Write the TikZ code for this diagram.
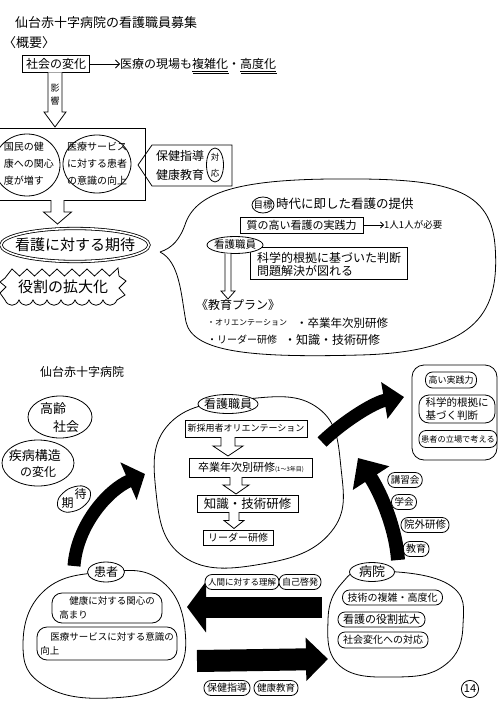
\documentclass[tikz,border=0pt]{standalone}
\usepackage{fontspec}
\setmainfont{Noto Sans CJK JP}
\usetikzlibrary{shapes.geometric,arrows.meta}
\newcommand\fsz[1]{\fontsize{#1}{#1}\selectfont}
\tikzset{
  pen/.style={line width=0.8pt},
  txt/.style={inner sep=0pt},
  shp/.style={draw, pen, ellipse, inner sep=0pt},
  bx/.style={draw, pen, rectangle, inner sep=0pt},
  stad/.style={draw, pen, rectangle, rounded corners=7pt, inner xsep=3pt, inner ysep=2pt, fill=white},
  hollow/.style={draw, pen, fill=white},
  blk/.style={line width=#1, draw=black},
}
\newcommand\hdown[6]{\draw[hollow] ({#1-#4},#2) -- ({#1-#4},{#3-#6}) -- ({#1-#5},{#3-#6}) -- (#1,#3) -- ({#1+#5},{#3-#6}) -- ({#1+#4},{#3-#6}) -- ({#1+#4},#2);}
\begin{document}
\begin{tikzpicture}[x=1pt,y=-1pt]
\fill[white] (0,0) rectangle (500,706);
\useasboundingbox (0,0) rectangle (500,706);

% ---------- top part ----------
\node[txt, anchor=west, font=\fsz{13}] (title) at (15,23) {仙台赤十字病院の看護職員募集};
\node[txt, anchor=west, font=\fsz{13}] (gaiyo) at (3,43) {〈概要〉};
\node[bx, minimum width=67, minimum height=17, font=\fsz{12}] (shakai) at (56,64) {社会の変化};
\node[txt, anchor=west, font=\fsz{12}] (iryo) at (120,64) {医療の現場も複雑化・高度化};
\draw[pen, -{Straight Barb[length=4pt]}] (shakai.east) -- (iryo.west);
\draw[line width=0.5pt] (192,71) -- (228,71) (193,73.5) -- (229,73.5);
\draw[line width=0.5pt] (240,71) -- (276,71) (241,73.5) -- (277,73.5);

\hdown{55}{72.5}{127}{7}{11}{15}
\node[txt, font=\fsz{9}] (ei) at (55,88) {影};
\node[txt, font=\fsz{9}] (kyo) at (55,101) {響};

\draw[pen] (0,128) -- (145,128) -- (145,200) -- (0,200);
\node[shp, minimum width=66, minimum height=62] (kokumin) at (27,165) {};
\node[txt, align=left, font=\fontsize{10}{17}\selectfont] at (29,164) {国民の健\\康への関心\\度が増す};
\node[shp, minimum width=68, minimum height=58] (ishiki) at (97,164) {};
\node[txt, align=center, font=\fontsize{10}{17}\selectfont] at (ishiki.center) {医療サービス\\に対する患者\\の意識の向上};

\draw[pen] (138,165) -- (152,145) -- (232,145) -- (232,186) -- (152,186) -- cycle;
\node[txt, font=\fsz{12}] (hoken1) at (180,156) {保健指導};
\node[txt, font=\fsz{12}] (kenko1) at (180,175) {健康教育};
\node[shp, minimum width=17, minimum height=34] (taio) at (215,165) {};
\node[txt, font=\fsz{8.5}] at (215,157) {対};
\node[txt, font=\fsz{8.5}] at (215,173) {応};

\hdown{57.5}{200}{224}{6.5}{14}{12}

\node[shp, double, double distance=1.6pt, minimum width=148, minimum height=33] (kitai) at (75,245) {};
\node[txt, font=\fsz{15}] at (kitai.center) {看護に対する期待};

\draw[pen] (5,278) \foreach \i in {0,...,6} { -- ({12+15*\i},269) -- ({19.5+15*\i},276) } -- (118,268) -- (119,276) -- (126,281) -- (119,288) -- (125,295) -- (117,300)
  \foreach \i in {0,...,7} { .. controls ({114-14*\i},307) and ({106-14*\i},307) .. ({103-14*\i},300) } -- (0,293) -- (6,287) -- (0,282) -- cycle;
\node[txt, font=\fsz{15}] (yakuwari) at (63,287) {役割の拡大化};

% speech bubble
\draw[pen] (160,252) .. controls (172,248) and (180,240) .. (186,222) .. controls (198,192) and (240,180) .. (330,179) .. controls (440,178) and (490,185) .. (495,245) .. controls (500,310) and (480,352) .. (360,355) .. controls (250,358) and (193,352) .. (186,322) .. controls (181,295) and (180,262) .. (160,252);

\node[shp, minimum width=22, minimum height=16, label={[txt,font=\fsz{9.5}]center:目標}] (mokuhyo) at (263,205) {};
\node[txt, anchor=west, font=\fsz{12.5}] (jidai) at (276,204) {時代に即した看護の提供};
\node[bx, minimum width=123, minimum height=16, font=\fsz{11}] (shitsu) at (301.5,225) {質の高い看護の実践力};
\node[txt, anchor=west, font=\fsz{9.5}] (hitori) at (384,225) {1人1人が必要};
\draw[pen, -{Straight Barb[length=3pt]}] (shitsu.east) -- (hitori.west);
\node[bx, minimum width=157, minimum height=32] (kagaku) at (328.5,263.5) {};
\node[txt, anchor=west, align=left, font=\fontsize{12}{13.5}\selectfont] at (257,264.5) {科学的根拠に基づいた判断\\問題解決が図れる};
\node[shp, fill=white, minimum width=56, minimum height=17, label={[txt,font=\fsz{10.5}]center:看護職員}] (kango2) at (235,245) {};
\draw[hollow] (225,253.5) -- (225,291) -- (221,291) -- (228,299) -- (235,291) -- (231,291) -- (231,253.5);
\node[txt, anchor=west, font=\fsz{12}] (plan) at (196,305) {《教育プラン》};
\node[txt, anchor=west, font=\fsz{8}] (b_ori) at (207,323) {・オリエンテーション};
\node[txt, anchor=west, font=\fsz{11.5}] (b_sot) at (296,323) {・卒業年次別研修};
\node[txt, anchor=west, font=\fsz{10}] (b_lea) at (207,340) {・リーダー研修};
\node[txt, anchor=west, font=\fsz{12}] (b_chi) at (284,340) {・知識・技術研修};

% ---------- lower part ----------
\node[txt, anchor=west, font=\fsz{12}] (title2) at (40,372) {仙台赤十字病院};
\node[shp, minimum width=64, minimum height=42] (korei) at (60,417) {};
\node[txt, font=\fsz{13}] at (53,409) {高齢};
\node[txt, font=\fsz{13}] at (66,427) {社会};
\node[shp, minimum width=72, minimum height=46] (shippei) at (38,463) {};
\node[txt, font=\fsz{13}] at (35,456) {疾病構造};
\node[txt, font=\fsz{12}] at (38,472) {の変化};
\draw[pen] plot[smooth cycle, tension=0.55] coordinates {(89.9,490.6) (89.05,500.2) (79.4,509.2) (66.6,512.2) (58.1,507.4) (58.95,497.8) (68.6,488.85) (81.4,485.85)};
\node[txt, font=\fsz{12}] (ki) at (67.5,503.5) {期};
\node[txt, font=\fsz{12}] (tai) at (80.5,494) {待};

% central circle
\draw[pen] plot[smooth cycle, tension=0.75] coordinates {(247,399) (318,408) (341,468) (331,532) (262,564) (184,557) (156,492) (170,423)};
\node[shp, fill=white, minimum width=60, minimum height=19, label={[txt,font=\fsz{12}]center:看護職員}] (nurse) at (228,404) {};
\node[bx, minimum width=122, minimum height=17, font=\fsz{9}] (b1) at (246,428.5) {新採用者オリエンテーション};
\node[bx, minimum width=123, minimum height=19] (b2) at (251,467.5) {\fsz{11}卒業年次別研修\fsz{6}(1〜3年目)};
\node[bx, minimum width=101, minimum height=17, font=\fsz{12.5}] (b3) at (247.5,503.5) {知識・技術研修};
\node[bx, minimum width=70, minimum height=15, font=\fsz{10}] (b4) at (238,537.5) {リーダー研修};
\hdown{228}{437}{456}{7}{15}{10}
\hdown{236}{477}{494}{6}{13}{9}
\hdown{234}{512}{528.5}{5}{10}{8}

% right box
\node[draw, pen, rounded corners=12pt, minimum width=85, minimum height=95] (rbox) at (454.5,412.5) {};
\node[stad, minimum width=44, minimum height=16, font=\fsz{9}] (takai) at (451,380) {高い実践力};
\node[stad, rounded corners=10pt, minimum width=76, minimum height=28, align=left, font=\fontsize{10.5}{13}\selectfont] (konkyo) at (457,409) {科学的根拠に\\基づく判断};
\node[stad, minimum width=78, minimum height=17, inner xsep=2pt, font=\fsz{8.2}] (tachiba) at (458,439) {患者の立場で考える};

% outside-training ovals
\node[stad, minimum height=15, font=\fsz{9.5}] (koshu) at (405,480) {講習会};
\node[stad, minimum height=15, font=\fsz{9.5}] (gakkai) at (404,502) {学会};
\node[stad, minimum height=15, font=\fsz{10.5}] (ingai) at (425,525) {院外研修};
\node[stad, minimum height=15, font=\fsz{10}] (kyoiku) at (416,549) {教育};

% patient circle
\draw[pen] plot[smooth cycle, tension=0.75] coordinates {(106,572) (160,580) (185,630) (170,680) (110,698) (45,686) (23,645) (45,590)};
\node[shp, fill=white, minimum width=37, minimum height=20, label={[txt,font=\fsz{12}]center:患者}] (kanja) at (106,572) {};
\node[stad, rounded corners=10pt, minimum width=110, minimum height=30, align=left, font=\fontsize{9.5}{14}\selectfont] (kanshin) at (107,608) {\hspace{10pt}健康に対する関心の\\高まり};
\node[stad, rounded corners=10pt, minimum width=140, minimum height=33, align=left, font=\fontsize{9.5}{14}\selectfont] (iryoishiki) at (107,643.5) {\hspace{10pt}医療サービスに対する意識の\\向上};

% hospital circle
\draw[pen] plot[smooth cycle, tension=0.75] coordinates {(372,571) (448,584) (463,625) (445,665) (395,677) (340,666) (328,620) (342,583)};
\node[shp, fill=white, minimum width=45, minimum height=19, label={[txt,font=\fsz{13}]center:病院}] (byoin) at (372,572) {};
\node[stad, minimum width=100, minimum height=15, font=\fsz{10}] (gijutsu) at (392.5,597.5) {技術の複雑・高度化};
\node[stad, minimum width=87, minimum height=15, font=\fsz{11}] (kakudai) at (381.5,619.5) {看護の役割拡大};
\node[stad, minimum width=90, minimum height=16, font=\fsz{10}] (taiou) at (383,640) {社会変化への対応};

% black arrows
\coordinate (a1s) at (74,566); \coordinate (a1e) at (145,474);
\draw[blk=13pt, -{Triangle[length=18pt,width=40pt]}] (a1s) .. controls (77,525) and (108,490) .. (a1e);
\coordinate (a2s) at (322,442); \coordinate (a2e) at (404,397);
\draw[blk=13pt, -{Triangle[length=20pt,width=36pt]}] (a2s) .. controls (345,420) and (375,402) .. (a2e);
\coordinate (a3s) at (398,560); \coordinate (a3e) at (358,458);
\draw[blk=14pt, -{Triangle[length=24pt,width=42pt]}] (a3s) .. controls (396,530) and (382,495) .. (a3e);
\coordinate (a4s) at (322,607); \coordinate (a4e) at (187,607);
\draw[blk=21pt, -{Triangle[length=19pt,width=50pt]}] (a4s) -- (a4e);
\coordinate (a5s) at (197,661); \coordinate (a5e) at (328,659);
\draw[blk=22pt, -{Triangle[length=22pt,width=42pt]}] (a5s) -- (a5e);

% arrow labels
\node[stad, minimum height=15, font=\fsz{8.5}] (ningen) at (242,582) {人間に対する理解};
\node[stad, minimum height=15, font=\fsz{9}] (keihatsu) at (300,582) {自己啓発};
\node[stad, minimum height=15, font=\fsz{10}] (hoken2) at (227,688) {保健指導};
\node[stad, minimum height=15, font=\fsz{9.5}] (kenko2) at (276,688) {健康教育};

\node[draw, pen, circle, inner sep=1pt, font=\fsz{11}] (page) at (470,689) {14};
\end{tikzpicture}
\end{document}
